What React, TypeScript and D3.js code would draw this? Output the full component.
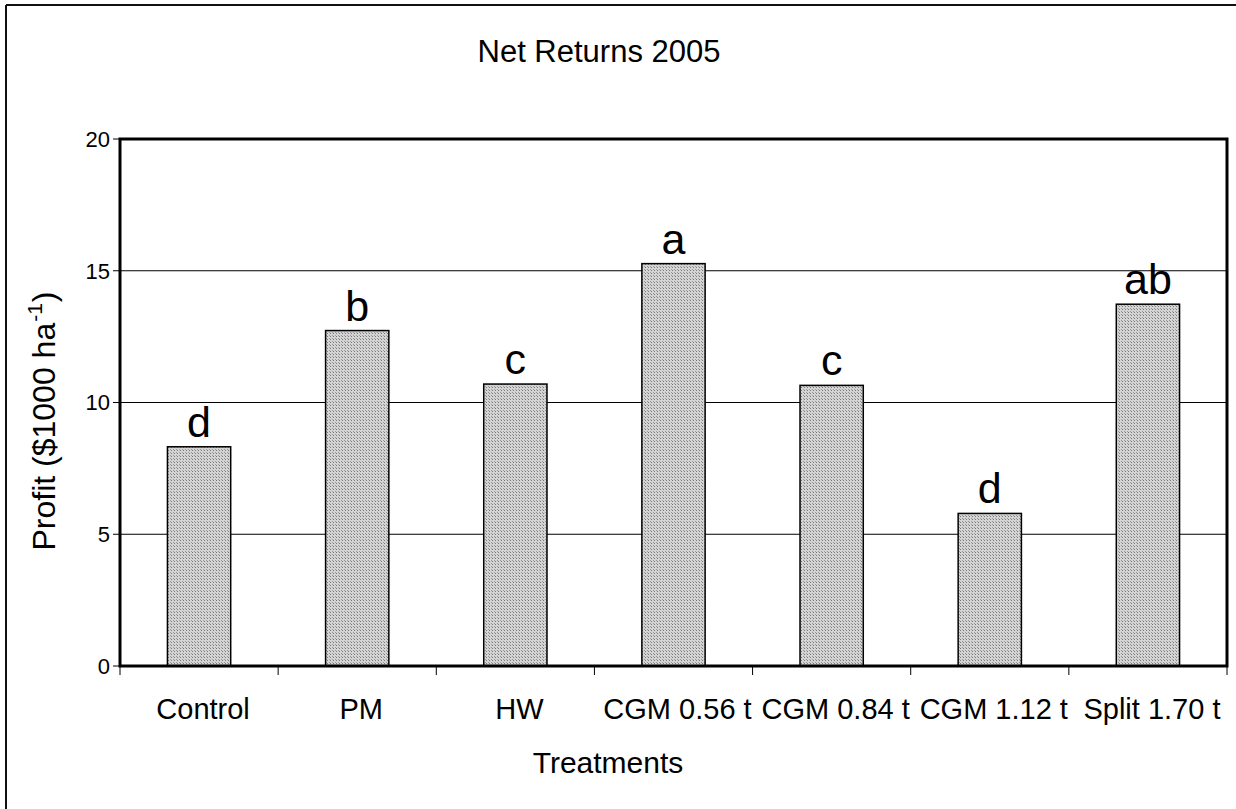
import React from "react";
import * as d3 from "d3";

const categories = ["Control", "PM", "HW", "CGM 0.56 t", "CGM 0.84 t", "CGM 1.12 t", "Split 1.70 t"];
const profits = [8.32, 12.73, 10.7, 15.27, 10.65, 5.79, 13.73];
const letters = ["d", "b", "c", "a", "c", "d", "ab"];
const yTicks = [0, 5, 10, 15, 20];

const W = 1236;
const H = 809;
const M = { left: 120, right: 1227, top: 139, bottom: 666 };
const FONT = "'Liberation Sans', Arial, Helvetica, sans-serif";

export default function App() {
  const x = d3.scaleBand<string>().domain(categories).range([M.left, M.right]).paddingInner(0.6).paddingOuter(0.3);
  const xb = d3.scaleBand<string>().domain(categories).range([M.left, M.right]);
  const y = d3.scaleLinear().domain([0, 20]).range([M.bottom, M.top]);

  return (
    <svg width={W} height={H} style={{ position: "absolute", left: 0, top: 0, background: "#fff" }} fontFamily={FONT}>
      <defs>
        <pattern id="dots" width={3} height={3} patternUnits="userSpaceOnUse">
          <rect width={3} height={3} fill="#d4d4d4" />
          <rect x={0} y={0} width={1} height={1} fill="#7a7a7a" />
          <rect x={2} y={2} width={1} height={1} fill="#9a9a9a" />
        </pattern>
      </defs>
      <rect x={0} y={0} width={W} height={H} fill="#fff" />
      {/* outer frame */}
      <line x1={6} y1={5} x2={W} y2={5} stroke="#111" strokeWidth={2} />
      <line x1={6} y1={5} x2={6} y2={H} stroke="#111" strokeWidth={2} />

      <text x={599} y={62} textAnchor="middle" fontSize={31}>Net Returns 2005</text>

      {/* gridlines */}
      {yTicks.filter((t) => t > 0 && t < 20).map((t) => (
        <line key={t} x1={M.left} x2={M.right} y1={y(t)} y2={y(t)} stroke="#000" strokeWidth={1} />
      ))}

      {/* bars */}
      {categories.map((c, i) => (
        <g key={c}>
          <rect x={x(c)} y={y(profits[i])} width={x.bandwidth()} height={y(0) - y(profits[i])}
            fill="url(#dots)" stroke="#000" strokeWidth={1.5} />
          <text x={(x(c) as number) + x.bandwidth() / 2} y={y(profits[i]) - 10} textAnchor="middle" fontSize={43}>
            {letters[i]}
          </text>
        </g>
      ))}

      {/* plot frame */}
      <rect x={M.left} y={M.top} width={M.right - M.left} height={M.bottom - M.top} fill="none" stroke="#000" strokeWidth={3} />

      {/* y ticks */}
      {yTicks.map((t) => (
        <g key={t}>
          <line x1={M.left - 7} x2={M.left} y1={y(t)} y2={y(t)} stroke="#000" strokeWidth={1} />
          <text x={M.left - 10} y={y(t)} dy="0.36em" textAnchor="end" fontSize={22}>{t}</text>
        </g>
      ))}

      {/* x ticks at band boundaries */}
      {categories.map((c) => (
        <line key={"t" + c} x1={xb(c)} x2={xb(c)} y1={M.bottom} y2={M.bottom + 9} stroke="#000" strokeWidth={1} />
      ))}
      <line x1={M.right} x2={M.right} y1={M.bottom} y2={M.bottom + 9} stroke="#000" strokeWidth={1} />

      {/* category labels */}
      {categories.map((c) => (
        <text key={"l" + c} x={(xb(c) as number) + xb.bandwidth() / 2 + 4} y={719} textAnchor="middle" fontSize={29}>{c}</text>
      ))}

      <text x={608} y={773} textAnchor="middle" fontSize={30}>Treatments</text>

      <text transform="translate(55,421) rotate(-90)" textAnchor="middle" fontSize={32}>
        Profit ($1000 ha<tspan dx={1} dy={-13} fontSize={21}>-1</tspan><tspan dx={1} dy={13}>)</tspan>
      </text>
    </svg>
  );
}
